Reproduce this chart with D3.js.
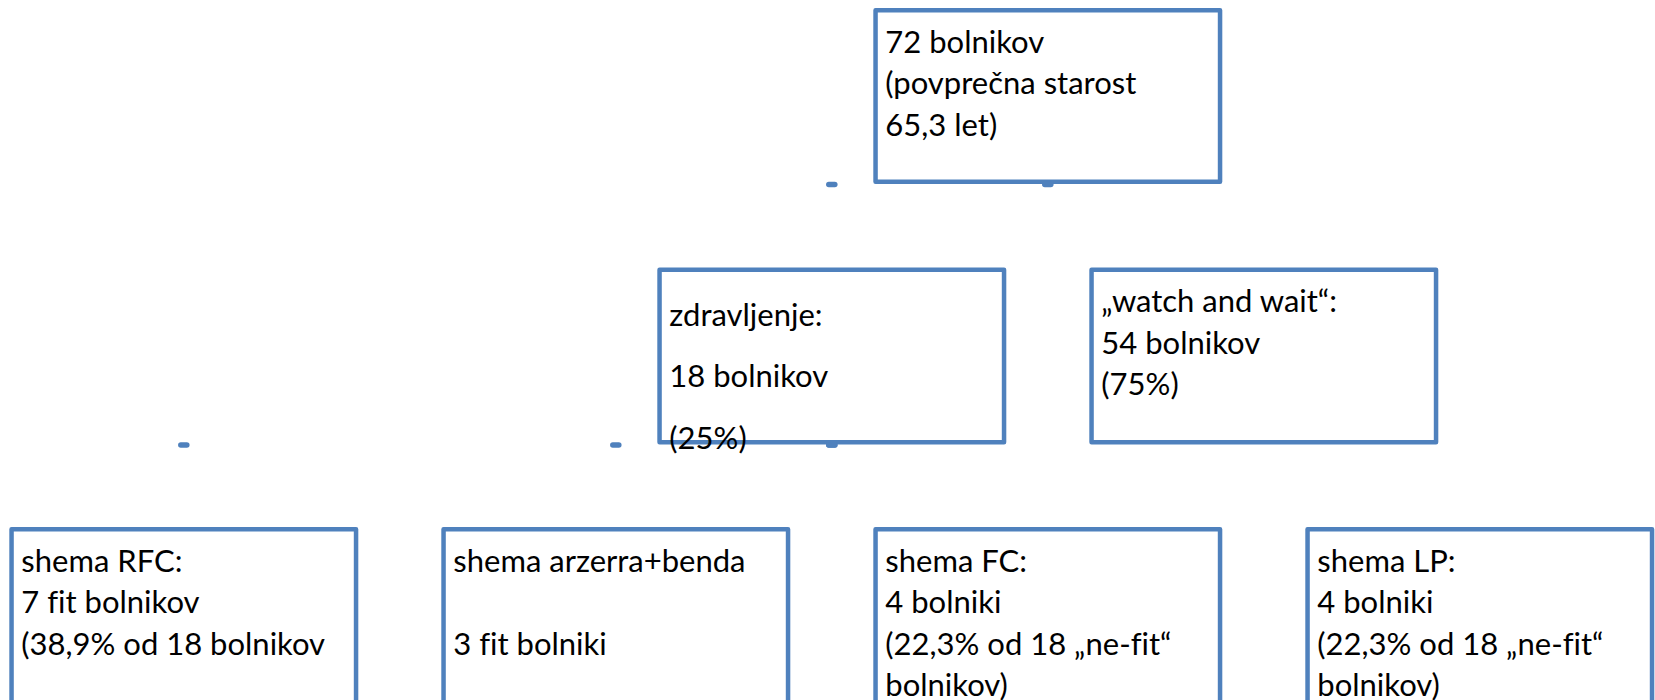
<!DOCTYPE html>
<html>
<head>
<meta charset="utf-8">
<script src="https://cdn.jsdelivr.net/npm/d3@7"></script>
<style>
body { margin: 0; background: #fff; }
svg { display: block; }
text { font-variant-ligatures: none; font-feature-settings: "liga" 0; }
</style>
</head>
<body>
<svg></svg>
<script>
// vozlišča diagrama
var boxIds = ["vsi", "zdravljenje", "watch", "rfc", "benda", "fc", "lp"];
var boxLevels = [0, 1, 1, 2, 2, 2, 2];
var boxColumns = [2, 1.5, 2.5, 0, 1, 2, 3];
var boxTexts = [
    ["72 bolnikov", "(povprečna starost", "65,3 let)"],
    ["zdravljenje:", "18 bolnikov", "(25%)"],
    ["„watch and wait“:", "54 bolnikov", "(75%)"],
    ["shema RFC:", "7 fit bolnikov", "(38,9% od 18 bolnikov"],
    ["shema arzerra+benda", "", "3 fit bolniki"],
    ["shema FC:", "4 bolniki", "(22,3% od 18 „ne-fit“", "bolnikov)"],
    ["shema LP:", "4 bolniki", "(22,3% od 18 „ne-fit“", "bolnikov)"]
];
// povezave (starš -> otrok), vidni so samo konci
var linkFrom = ["vsi", "zdravljenje", "zdravljenje"];
var linkTo = ["zdravljenje", "rfc", "benda"];

var width = 1655, height = 700;
var blue = "#4f81bd";
var sw = 4.5;
var boxW = 349;
var boxH = [176, 177, 190]; // po nivojih

var nodes = boxIds.map((id, i) => ({
    id: id,
    level: boxLevels[i],
    col: boxColumns[i],
    lines: boxTexts[i]
}));
var byId = {};
nodes.forEach(d => byId[d.id] = d);

var x = d3.scaleLinear().domain([0, 4]).range([9.3, 9.3 + 4 * 432]);
var y = d3.scaleLinear().domain([0, 2]).range([8, 527]);

var svg = d3.select("svg").attr("width", width).attr("height", height);

// okvirji
svg.selectAll("rect.box")
    .data(nodes)
    .enter().append("rect")
    .attr("class", "box")
    .attr("x", d => x(d.col) + sw / 2)
    .attr("y", d => y(d.level) + sw / 2)
    .attr("width", boxW - sw)
    .attr("height", d => boxH[d.level] - sw)
    .attr("fill", "#fff")
    .attr("stroke", blue)
    .attr("stroke-width", sw)
    .attr("stroke-linejoin", "round");

// ostanki povezav - kratki koščki na dnu starša
var nubs = [];
linkFrom.forEach((f, i) => {
    var p = byId[f], c = byId[linkTo[i]];
    var yy = y(p.level) + boxH[p.level] + 0.5;
    nubs.push({ cx: x(p.col) + boxW / 2, cy: yy });
    nubs.push({ cx: x(c.col) + boxW / 2, cy: yy });
});
svg.selectAll("path.nub")
    .data(nubs)
    .enter().append("path")
    .attr("class", "nub")
    .attr("d", d => "M" + (d.cx - 3) + "," + d.cy + "H" + (d.cx + 3))
    .attr("stroke", blue)
    .attr("stroke-width", 5.5)
    .attr("stroke-linecap", "round");

// besedilo
var g = svg.selectAll("g.txt")
    .data(nodes)
    .enter().append("g")
    .attr("class", "txt");

g.each(function(d) {
    var first = d.id === "zdravljenje" ? 58 : 44.5;
    var lh = d.id === "zdravljenje" ? 61.5 : 41.5;
    d3.select(this).selectAll("text")
        .data(d.lines)
        .enter().append("text")
        .attr("x", x(d.col) + 12)
        .attr("y", (t, i) => y(d.level) + first + i * lh)
        .attr("font-family", "Lato, 'Open Sans', sans-serif")
        .attr("font-size", 31)
        .attr("fill", "#000")
        .text(t => t);
});
</script>
</body>
</html>
